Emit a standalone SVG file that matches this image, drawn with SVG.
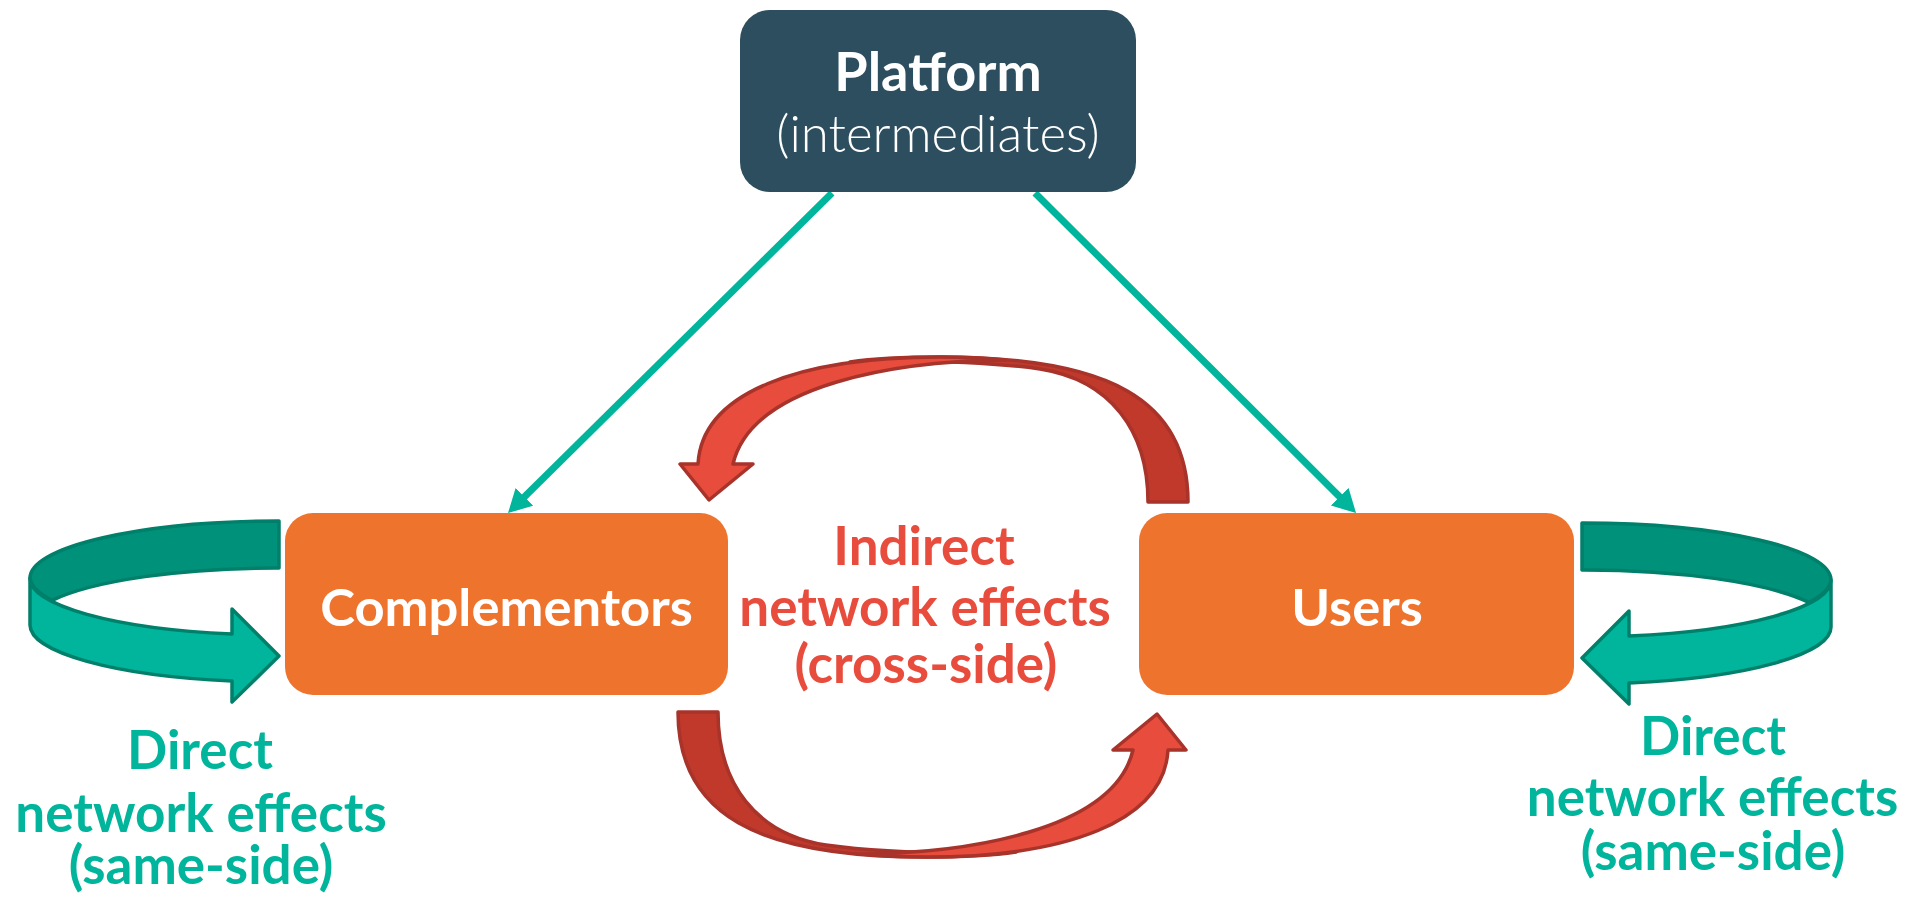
<svg xmlns="http://www.w3.org/2000/svg" xmlns:xlink="http://www.w3.org/1999/xlink" width="1921" height="898" viewBox="0 0 1921 898">
<style>
  .lbl { font-family: Lato, "Open Sans", "Liberation Sans", sans-serif; font-weight: 700; text-anchor: middle; }
  .white { fill: #ffffff; }
  .teal { fill: #00B59B; }
  .red { fill: #E84C3D; }
  .link { stroke: #00B59B; stroke-width: 7; fill: none; }
  .rib-dark { fill: #00917A; stroke: #007F6B; stroke-width: 3.5; stroke-linejoin: round; }
  .rib-light { fill: #00B59B; stroke: #007F6B; stroke-width: 3.5; stroke-linejoin: round; }
  .ra-dark { fill: #C0392B; stroke: #A8332A; stroke-width: 3.5; stroke-linejoin: round; }
  .ra-light { fill: #E84C3D; stroke: #A8332A; stroke-width: 3.5; stroke-linejoin: round; }
</style>
<defs>
  <marker id="tealHead" markerUnits="userSpaceOnUse" markerWidth="24" markerHeight="26" refX="8" refY="12.5" orient="auto">
    <path d="M0,0 L23,12.5 L0,25 Z" fill="#00B59B"/>
  </marker>
  <g id="ribbon">
    <path class="rib-dark" d="M279,521 A249,57 0 0 0 30,578 A249,57 0 0 0 52,600.4 A249,57 0 0 1 279,568 Z"/>
    <path class="rib-light" d="M30,578 A249,57 0 0 0 232,634 L232,609 L279,656 L232,702 L232,681 A249,57 0 0 1 30,625 Z"/>
  </g>
  <g id="redArrow">
    <path class="ra-dark" d="M1148,502 L1188,502 C1188,400 1110,357 940,357 C900,357 870,359 850,362 C920,360 990,362 1040,369 C1110,380 1148,430 1148,502 Z"/>
    <path class="ra-light" d="M698,464 C702,392 800,357 940,357 C962,357 985,358 1005,360 C900,361 752,383 733,464 L753,464 L709,500 L680,464 Z"/>
  </g>
</defs>
<rect width="1921" height="898" fill="#ffffff"/>

<g id="connectors">
  <line class="link" x1="832" y1="193" x2="518.7" y2="502.5" marker-end="url(#tealHead)"/>
  <line class="link" x1="1035" y1="193" x2="1345.4" y2="502.4" marker-end="url(#tealHead)"/>
  <g id="direct-left"><use xlink:href="#ribbon" href="#ribbon"/></g>
  <g id="direct-right"><use xlink:href="#ribbon" href="#ribbon" transform="translate(1861,2) scale(-1,1)"/></g>
  <g id="indirect-top"><use xlink:href="#redArrow" href="#redArrow"/></g>
  <g id="indirect-bottom"><use xlink:href="#redArrow" href="#redArrow" transform="rotate(180 933 607)"/></g>
</g>

<g id="platform">
  <rect x="740" y="10" width="396" height="182" rx="30" ry="30" fill="#2D4E5F"/>
  <text class="lbl white" x="938" y="91" font-size="54">Platform</text>
  <text x="938" y="152" font-size="51" fill="#ffffff" text-anchor="middle" font-family="Lato, 'Open Sans', 'Liberation Sans', sans-serif" font-weight="300">(intermediates)</text>
</g>

<g id="complementors">
  <rect x="285" y="513" width="443" height="182" rx="28" ry="28" fill="#EE742E"/>
  <text class="lbl white" x="506.5" y="626" font-size="52.5">Complementors</text>
</g>

<g id="users">
  <rect x="1139" y="513" width="435" height="182" rx="28" ry="28" fill="#EE742E"/>
  <text class="lbl white" x="1357" y="626" font-size="52.5">Users</text>
</g>

<g id="indirect-label">
  <text class="lbl red" x="924" y="565" font-size="53">Indirect</text>
  <text class="lbl red" x="925" y="626" font-size="53">network effects</text>
  <text class="lbl red" x="926" y="683" font-size="53">(cross-side)</text>
</g>

<g id="direct-left-label">
  <text class="lbl teal" x="200" y="769" font-size="53">Direct</text>
  <text class="lbl teal" x="201" y="832" font-size="53">network effects</text>
  <text class="lbl teal" x="201" y="884" font-size="53">(same-side)</text>
</g>

<g id="direct-right-label">
  <text class="lbl teal" x="1713" y="755" font-size="53">Direct</text>
  <text class="lbl teal" x="1712.5" y="816" font-size="53">network effects</text>
  <text class="lbl teal" x="1713" y="870" font-size="53">(same-side)</text>
</g>
</svg>
